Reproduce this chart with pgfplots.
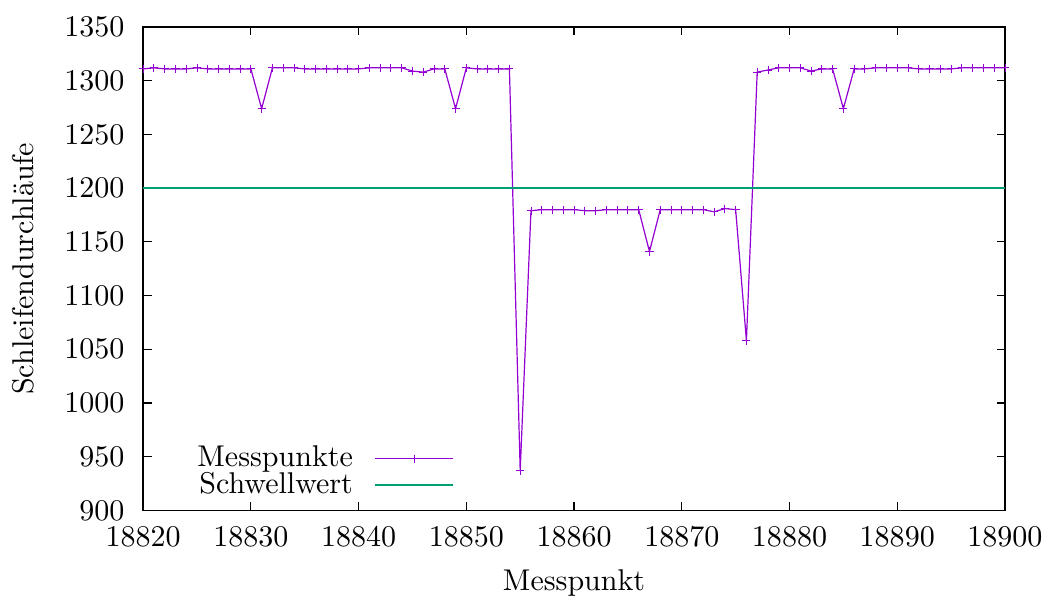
\documentclass[border=0pt]{standalone}
\usepackage{pgfplots}
\pgfplotsset{compat=1.18}
\usepackage{pgfplotstable}

\definecolor{gpviolet}{HTML}{9400D3}
\definecolor{gpgreen}{HTML}{009E73}

% Messwerte (Schleifendurchlaeufe je Messpunkt)
\pgfplotstableread{
x y
18820 1311
18821 1312
18822 1311
18823 1311
18824 1311
18825 1312
18826 1311
18827 1311
18828 1311
18829 1311
18830 1311
18831 1274
18832 1312
18833 1312
18834 1312
18835 1311
18836 1311
18837 1311
18838 1311
18839 1311
18840 1311
18841 1312
18842 1312
18843 1312
18844 1312
18845 1309
18846 1308
18847 1311
18848 1311
18849 1274
18850 1312
18851 1311
18852 1311
18853 1311
18854 1311
18855 937
18856 1179
18857 1180
18858 1180
18859 1180
18860 1180
18861 1179
18862 1179
18863 1180
18864 1180
18865 1180
18866 1180
18867 1141
18868 1180
18869 1180
18870 1180
18871 1180
18872 1180
18873 1178
18874 1181
18875 1180
18876 1058
18877 1308
18878 1310
18879 1312
18880 1312
18881 1312
18882 1309
18883 1311
18884 1311
18885 1274
18886 1311
18887 1311
18888 1312
18889 1312
18890 1312
18891 1312
18892 1311
18893 1311
18894 1311
18895 1311
18896 1312
18897 1312
18898 1312
18899 1312
18900 1312
}\messdaten

\begin{document}
\begin{tikzpicture}
\begin{axis}[
    scale only axis,
    width=287pt,
    height=161pt,
    xmin=18820, xmax=18900,
    ymin=900, ymax=1350,
    xtick={18820,18830,...,18900},
    ytick={900,950,...,1350},
    scaled ticks=false,
    xticklabel={\pgfmathprintnumber[fixed,precision=0,1000 sep={}]{\tick}},
    yticklabel={\pgfmathprintnumber[fixed,precision=0,1000 sep={}]{\tick}},
    tick align=inside,
    major tick length=2.8pt,
    tick style={black, line width=0.4pt},
    axis line style={line width=0.45pt},
    yticklabel style={xshift=-2.7pt},
    xticklabel style={yshift=-2pt},
    xlabel={Messpunkt},
    ylabel={Schleifendurchläufe},
    xlabel style={at={(axis description cs:0.5,-0.151)}, anchor=center},
    ylabel style={at={(axis description cs:-0.139,0.5)}, anchor=center},
    legend plot pos=right,
    legend cell align=right,
    legend style={draw=none, fill=none, at={(0.372,0)}, anchor=south east,
        row sep=-3.7pt,
        /tikz/every odd column/.append style={column sep=5pt}},
    legend image code/.code={
        \draw[mark repeat=2, mark phase=2] plot coordinates {(0cm,0cm) (13pt,0cm) (26pt,0cm)};
    },
]
\addplot[gpviolet, line width=0.4pt, mark=+, mark size=1.35pt,
    mark options={line width=0.3pt}] table[x=x, y=y] {\messdaten};
\addlegendentry{Messpunkte}
\addplot[gpgreen, line width=0.7pt, mark=none] coordinates {(18820,1200) (18900,1200)};
\addlegendentry{Schwellwert}
\coordinate (sw) at (rel axis cs:0,0);
\coordinate (ne) at (rel axis cs:1,1);
\end{axis}
\pgfresetboundingbox
\path ([shift={(-47.67pt,-29pt)}]sw) rectangle ([shift={(13.33pt,9pt)}]ne);
\end{tikzpicture}
\end{document}
